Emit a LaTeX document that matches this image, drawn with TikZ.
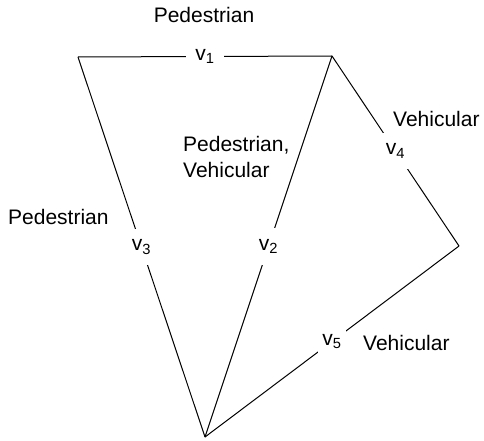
\documentclass[tikz,border=0pt]{standalone}
\usepackage{fontspec}
\setmainfont{Liberation Sans}
\begin{document}
\begin{tikzpicture}[x=1pt, y=-1pt, font=\fontsize{21}{26}\selectfont,
  road/.style={line width=1pt},
  linklbl/.style={fill=white, inner xsep=4pt, inner ysep=11pt},
  usetype/.style={anchor=base west, inner sep=0pt, align=left}]
  \useasboundingbox (0,0) rectangle (484,441);
  % Junctions
  \coordinate (nw) at (78,57);
  \coordinate (ne) at (332,56);
  \coordinate (e) at (459,246);
  \coordinate (s) at (205,437);
  % Links
  \draw[road] (nw) -- node[linklbl, inner xsep=9pt] (v1) {v\textsubscript{1}} (ne);
  \draw[road] (ne) -- node[linklbl] (v2) {v\textsubscript{2}} (s);
  \draw[road] (nw) -- node[linklbl] (v3) {v\textsubscript{3}} (s);
  \draw[road] (ne) -- node[linklbl] (v4) {v\textsubscript{4}} (e);
  \draw[road] (e) -- node[linklbl] (v5) {v\textsubscript{5}} (s);
  % Kinds of traffic
  \node[anchor=base, inner sep=0pt] (t1) at (204,23) {Pedestrian};
  \node[usetype] (t4) at (393,127) {Vehicular};
  \node[usetype] (t2) at (183,177) {Pedestrian,\\Vehicular};
  \node[usetype] (t3) at (8,224) {Pedestrian};
  \node[usetype] (t5) at (363,350) {Vehicular};
\end{tikzpicture}
\end{document}
